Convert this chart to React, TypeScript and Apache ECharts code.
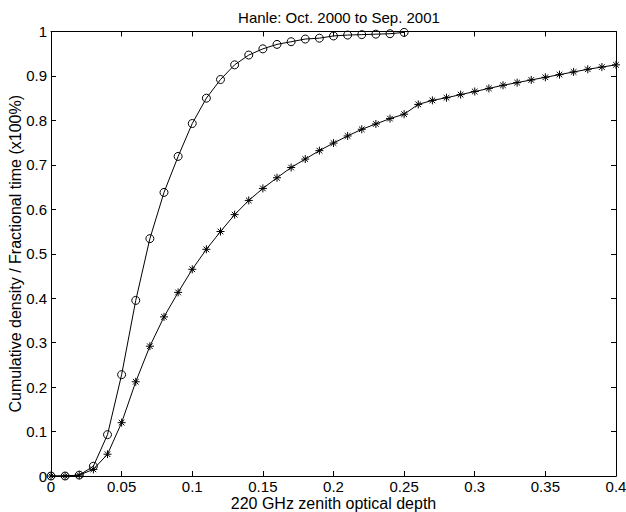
import React, { useEffect, useRef } from "react";
import * as echarts from "echarts";

const xCircle = [0, 0.01, 0.02, 0.03, 0.04, 0.05, 0.06, 0.07, 0.08, 0.09, 0.1, 0.11, 0.12, 0.13, 0.14, 0.15, 0.16, 0.17, 0.18, 0.19, 0.2, 0.21, 0.22, 0.23, 0.24, 0.25];
const yCircle = [0, 0, 0.002, 0.022, 0.093, 0.228, 0.395, 0.534, 0.638, 0.719, 0.793, 0.85, 0.892, 0.925, 0.947, 0.961, 0.971, 0.977, 0.983, 0.985, 0.99, 0.992, 0.993, 0.994, 0.995, 0.998];

const xStar = [0, 0.01, 0.02, 0.03, 0.04, 0.05, 0.06, 0.07, 0.08, 0.09, 0.1, 0.11, 0.12, 0.13, 0.14, 0.15, 0.16, 0.17, 0.18, 0.19, 0.2, 0.21, 0.22, 0.23, 0.24, 0.25, 0.26, 0.27, 0.28, 0.29, 0.3, 0.31, 0.32, 0.33, 0.34, 0.35, 0.36, 0.37, 0.38, 0.39, 0.4];
const yStar = [0, 0, 0.002, 0.015, 0.049, 0.12, 0.212, 0.292, 0.358, 0.413, 0.465, 0.51, 0.55, 0.588, 0.62, 0.647, 0.671, 0.694, 0.713, 0.732, 0.749, 0.765, 0.78, 0.792, 0.804, 0.814, 0.836, 0.845, 0.851, 0.858, 0.865, 0.872, 0.879, 0.885, 0.891, 0.897, 0.903, 0.909, 0.915, 0.92, 0.925];

const titleText = "Hanle: Oct. 2000 to Sep. 2001";
const xName = "220 GHz zenith optical depth";
const yName = "Cumulative density / Fractional time (x100%)";

const FONT = "Liberation Sans";
const starPath = "path://M0,-10L0,10M-10,0L10,0M-7,-7L7,7M-7,7L7,-7";

export default function App() {
  const ref = useRef<HTMLDivElement>(null);
  useEffect(() => {
    document.body.style.margin = "0";
    const chart = echarts.init(ref.current!, null, { renderer: "svg" });
    const axisCommon = {
      axisLine: { show: true, onZero: false, lineStyle: { color: "#000", width: 1 } },
      axisTick: { show: true, inside: true, length: 5, lineStyle: { color: "#000", width: 1 } },
      splitLine: { show: false },
    };
    chart.setOption({
      animation: false,
      backgroundColor: "#fff",
      title: {
        text: titleText,
        left: 334,
        textAlign: "center",
        top: 5,
        textStyle: { fontFamily: FONT, fontSize: 15, fontWeight: "normal", color: "#000" },
      },
      grid: { left: 51, right: 10, top: 31.5, bottom: 36, containLabel: false, outerBoundsMode: "none" },
      xAxis: [
        {
          type: "value",
          min: 0,
          max: 0.4,
          interval: 0.05,
          position: "bottom",
          name: xName,
          nameLocation: "middle",
          nameGap: 19,
          nameMoveOverlap: false,
          nameTextStyle: { fontFamily: FONT, fontSize: 16, color: "#000", lineHeight: 16 },
          axisLabel: { fontFamily: FONT, fontSize: 15, color: "#000", margin: 3, lineHeight: 15 },
          ...axisCommon,
        },
        {
          type: "value",
          min: 0,
          max: 0.4,
          interval: 0.05,
          position: "top",
          axisLabel: { show: false },
          ...axisCommon,
        },
      ],
      yAxis: [
        {
          type: "value",
          min: 0,
          max: 1,
          interval: 0.1,
          position: "left",
          name: yName,
          nameLocation: "middle",
          nameGap: 28,
          nameMoveOverlap: false,
          nameTextStyle: { fontFamily: FONT, fontSize: 16, color: "#000" },
          axisLabel: { fontFamily: FONT, fontSize: 15, color: "#000", margin: 4 },
          ...axisCommon,
        },
        {
          type: "value",
          min: 0,
          max: 1,
          interval: 0.1,
          position: "right",
          axisLabel: { show: false },
          ...axisCommon,
        },
      ],
      series: [
        {
          type: "line",
          xAxisIndex: 0,
          yAxisIndex: 0,
          data: xCircle.map((x, i) => [x, yCircle[i]]),
          symbol: "circle",
          symbolSize: 8,
          showAllSymbol: true,
          lineStyle: { color: "#000", width: 1 },
          itemStyle: { color: "rgba(0,0,0,0)", borderColor: "#000", borderWidth: 1 },
        },
        {
          type: "line",
          xAxisIndex: 0,
          yAxisIndex: 0,
          data: xStar.map((x, i) => [x, yStar[i]]),
          symbol: starPath,
          symbolSize: 8,
          showAllSymbol: true,
          lineStyle: { color: "#000", width: 1 },
          itemStyle: { color: "rgba(0,0,0,0)", borderColor: "#000", borderWidth: 1 },
        },
      ],
    });
    return () => chart.dispose();
  }, []);
  return <div ref={ref} style={{ width: 626, height: 512 }} />;
}
